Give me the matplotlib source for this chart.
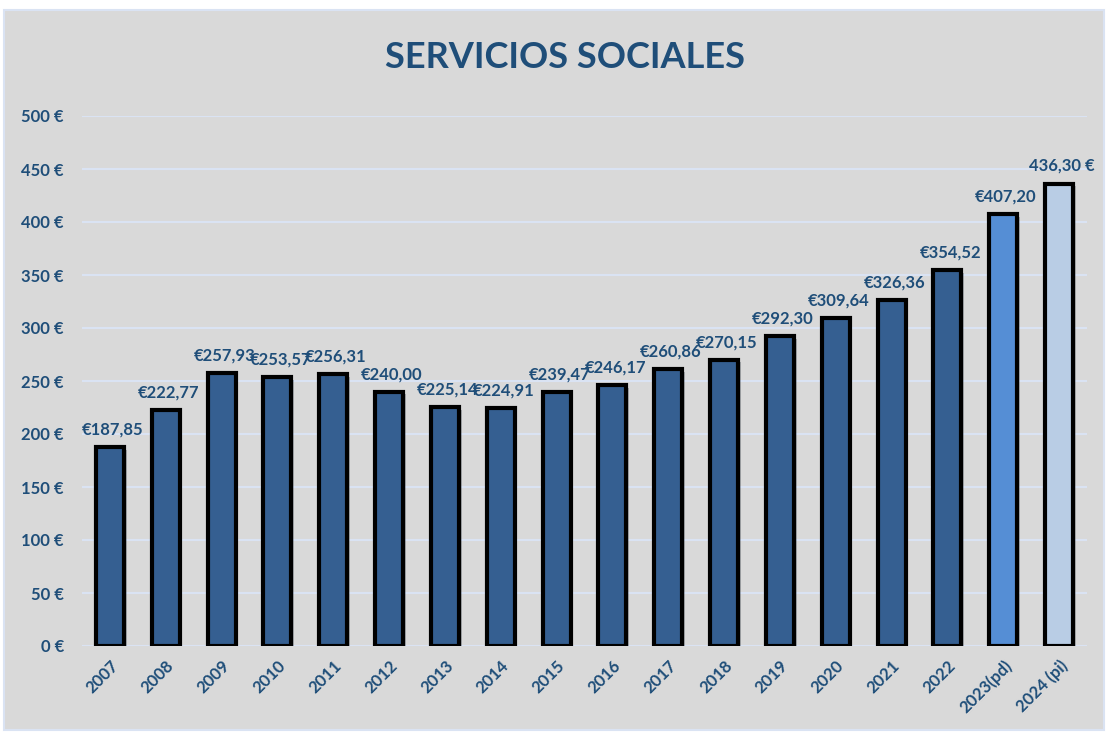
import matplotlib
matplotlib.use("Agg")
import matplotlib.pyplot as plt
from matplotlib.patches import Rectangle
import matplotlib.patheffects as pe

years = ["2007", "2008", "2009", "2010", "2011", "2012", "2013", "2014", "2015",
         "2016", "2017", "2018", "2019", "2020", "2021", "2022", "2023(pd)", "2024 (pi)"]
values = [187.85, 222.77, 257.93, 253.57, 256.31, 240.00, 225.14, 224.91, 239.47,
          246.17, 260.86, 270.15, 292.30, 309.64, 326.36, 354.52, 407.20, 436.30]
labels = ["€187,85", "€222,77", "€257,93", "€253,57", "€256,31", "€240,00", "€225,14",
          "€224,91", "€239,47", "€246,17", "€260,86", "€270,15", "€292,30", "€309,64",
          "€326,36", "€354,52", "€407,20", "436,30 €"]
yticks = [0, 50, 100, 150, 200, 250, 300, 350, 400, 450, 500]

plt.rcParams['font.family'] = ['Lato', 'DejaVu Sans']
txt = "#1f4e79"
dark = "#355f91"
colors = [dark] * 16 + ["#558ed5", "#b9cde5"]

fig = plt.figure(figsize=(11.08, 7.34), dpi=100, facecolor="white")
fig.patches.append(Rectangle((4/1108, 4/734), 1100/1108, 720/734, transform=fig.transFigure,
                             facecolor="#d9d9d9", edgecolor="#dae3f3", linewidth=1.5, zorder=-10))
ax = fig.add_axes([82/1108, 1 - 646/734, 1005/1108, 530/734])
ax.set_facecolor("none")
x = list(range(len(years)))
bars = ax.bar(x, values, width=0.5, color=colors, edgecolor="black", linewidth=3, zorder=3,
              path_effects=[pe.SimplePatchShadow(offset=(2, -2), alpha=0.25), pe.Normal()])
ax.set_xlim(-0.5, len(years) - 0.5)
ax.set_ylim(0, 500)
ax.set_yticks(yticks)
ax.set_yticklabels([f"{v} €" for v in yticks], fontsize=12, fontweight="bold", color=txt)
ax.set_xticks(x)
ax.set_xticklabels(years, rotation=45, ha="right", rotation_mode="anchor",
                   fontsize=12, fontweight="bold", color=txt)
ax.tick_params(axis="y", length=0, pad=13)
ax.tick_params(axis="x", length=0, pad=8)
ax.grid(axis="y", color="#dae3f3", linewidth=1.5, zorder=0)
for s in ax.spines.values():
    s.set_visible(False)
for xi, v, lab in zip(x, values, labels):
    ax.text(xi + 0.05, v + 9, lab, ha="center", va="bottom", fontsize=12,
            fontweight="bold", color=txt, zorder=4)
fig.text(565/1108, 1 - 57/734, "SERVICIOS SOCIALES", ha="center", va="center",
         fontsize=26, fontweight="bold", color=txt)
fig.savefig("out.png", dpi=100, facecolor="white")
